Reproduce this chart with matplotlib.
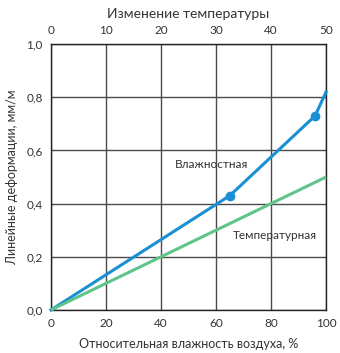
import matplotlib.pyplot as plt

plt.rcParams['font.family'] = ['Lato', 'DejaVu Sans']

# влажностная деформация (относительная влажность, %)
vlazh_x = [0, 65, 96, 100]
vlazh_y = [0, 0.43, 0.73, 0.82]
vlazh_markers = [1, 2]

# температурная деформация (по верхней оси, °C)
temp_x = [0, 50]
temp_y = [0, 0.5]

x_ticks = [0, 20, 40, 60, 80, 100]
t_ticks = [0, 10, 20, 30, 40, 50]
y_ticks = [0.0, 0.2, 0.4, 0.6, 0.8, 1.0]

blue = '#1a8fd4'
green = '#5ec48a'
text_col = '#333333'

fig = plt.figure(figsize=(3.4, 3.53), dpi=100)
ax = fig.add_axes([0.15, 0.122, 0.809, 0.753])

ax.set_xlim(0, 100)
ax.set_ylim(0, 1.0)
ax.set_xticks(x_ticks)
ax.set_yticks(y_ticks)
ax.set_yticklabels([f'{v:.1f}'.replace('.', ',') for v in y_ticks])
ax.grid(True, color='#4a4a4a', linewidth=1.0)
ax.set_axisbelow(True)
ax.tick_params(length=0, pad=6, labelsize=8.5, colors=text_col)
for s in ax.spines.values():
    s.set_color('#222222')
    s.set_linewidth(1.0)

ax.set_xlabel('Относительная влажность воздуха, %', fontsize=9, color=text_col, labelpad=6)
ax.set_ylabel('Линейные деформации, мм/м', fontsize=9, color=text_col, labelpad=6)

ax2 = ax.twiny()
ax2.set_xlim(0, 50)
ax2.set_xticks(t_ticks)
ax2.tick_params(length=0, pad=6, labelsize=8.5, colors=text_col)
ax2.set_xlabel('Изменение температуры', fontsize=10, color=text_col, labelpad=5)
for s in ax2.spines.values():
    s.set_visible(False)

ax2.plot(temp_x, temp_y, color=green, linewidth=2.2, solid_capstyle='butt', clip_on=False)
ax.plot(vlazh_x, vlazh_y, color=blue, linewidth=2.2, marker='o', markersize=6,
        markevery=vlazh_markers, clip_on=False, zorder=5)

ax.text(45, 0.535, 'Влажностная', fontsize=8.5, color=text_col)
ax.text(66, 0.265, 'Температурная', fontsize=8.5, color=text_col)

fig.savefig('out.png', dpi=100)
